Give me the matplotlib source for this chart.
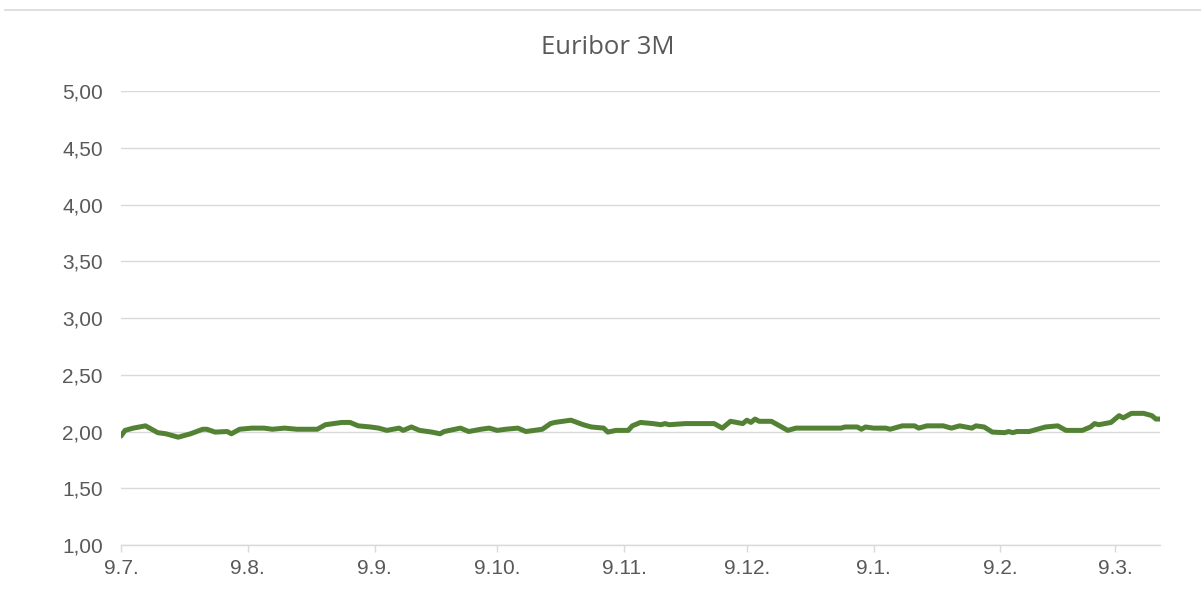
import pandas as pd
import matplotlib
matplotlib.use("Agg")
import matplotlib.pyplot as plt
import matplotlib.dates as mdates
from matplotlib.ticker import FuncFormatter, MultipleLocator
from matplotlib.lines import Line2D

# Euribor 3M readings
dates = [
    "2025-07-09", "2025-07-10", "2025-07-12", "2025-07-15", "2025-07-18", "2025-07-20",
    "2025-07-23", "2025-07-26", "2025-07-29", "2025-07-30", "2025-08-01", "2025-08-04",
    "2025-08-05", "2025-08-07", "2025-08-10", "2025-08-13", "2025-08-15", "2025-08-18",
    "2025-08-21", "2025-08-26", "2025-08-28", "2025-09-01", "2025-09-03", "2025-09-05",
    "2025-09-08", "2025-09-10", "2025-09-12", "2025-09-15", "2025-09-16", "2025-09-18",
    "2025-09-20", "2025-09-23", "2025-09-25", "2025-09-26", "2025-09-30", "2025-10-02",
    "2025-10-05", "2025-10-07", "2025-10-09", "2025-10-11", "2025-10-14", "2025-10-16",
    "2025-10-20", "2025-10-22", "2025-10-23", "2025-10-27", "2025-10-30", "2025-11-01",
    "2025-11-04", "2025-11-05", "2025-11-07", "2025-11-10", "2025-11-11", "2025-11-13",
    "2025-11-16", "2025-11-18", "2025-11-19", "2025-11-20", "2025-11-24", "2025-12-01",
    "2025-12-03", "2025-12-05", "2025-12-08", "2025-12-09", "2025-12-10", "2025-12-11",
    "2025-12-12", "2025-12-15", "2025-12-19", "2025-12-21", "2026-01-01", "2026-01-02",
    "2026-01-05", "2026-01-06", "2026-01-07", "2026-01-09", "2026-01-12", "2026-01-13",
    "2026-01-16", "2026-01-19", "2026-01-20", "2026-01-22", "2026-01-26", "2026-01-28",
    "2026-01-30", "2026-02-02", "2026-02-03", "2026-02-05", "2026-02-07", "2026-02-10",
    "2026-02-11", "2026-02-12", "2026-02-13", "2026-02-16", "2026-02-18", "2026-02-20",
    "2026-02-23", "2026-02-25", "2026-03-01", "2026-03-03", "2026-03-04", "2026-03-05",
    "2026-03-08", "2026-03-09", "2026-03-10", "2026-03-11", "2026-03-13", "2026-03-16",
    "2026-03-18", "2026-03-19", "2026-03-20",
]
rates = [
    1.96, 2.01, 2.03, 2.05, 1.99, 1.98,
    1.95, 1.98, 2.02, 2.02, 1.995, 2.00,
    1.98, 2.02, 2.03, 2.03, 2.02, 2.03,
    2.02, 2.02, 2.06, 2.08, 2.08, 2.05,
    2.04, 2.03, 2.01, 2.03, 2.01, 2.04,
    2.01, 1.995, 1.98, 2.00, 2.03, 2.00,
    2.02, 2.03, 2.01, 2.02, 2.03, 2.00,
    2.02, 2.07, 2.08, 2.10, 2.06, 2.04,
    2.03, 1.995, 2.01, 2.01, 2.05, 2.08,
    2.07, 2.06, 2.07, 2.06, 2.07, 2.07,
    2.03, 2.09, 2.07, 2.10, 2.08, 2.11,
    2.09, 2.09, 2.01, 2.03, 2.03, 2.04,
    2.04, 2.02, 2.04, 2.03, 2.03, 2.02,
    2.05, 2.05, 2.03, 2.05, 2.05, 2.03,
    2.05, 2.03, 2.05, 2.04, 1.995, 1.99,
    2.00, 1.99, 2.00, 2.00, 2.02, 2.04,
    2.05, 2.01, 2.01, 2.04, 2.07, 2.06,
    2.08, 2.11, 2.14, 2.12, 2.16, 2.16,
    2.14, 2.11, 2.11,
]

df = pd.DataFrame({"date": pd.to_datetime(dates), "rate": rates})

grey_text = "#595959"
grid_col = "#d9d9d9"

fig = plt.figure(figsize=(12.01, 5.95), dpi=100)
ax = fig.add_axes([0.1007, 0.084, 0.8652, 0.763])

ax.plot(df["date"], df["rate"], color="#548235", linewidth=3.6,
        solid_joinstyle="round", solid_capstyle="round")

ax.set_ylim(1.0, 5.0)
ax.yaxis.set_major_locator(MultipleLocator(0.5))
ax.yaxis.set_major_formatter(FuncFormatter(lambda v, p: f"{v:.2f}".replace(".", ",")))
ax.set_xlim(df["date"].iloc[0], df["date"].iloc[-1])
ax.xaxis.set_major_locator(mdates.MonthLocator(bymonthday=9))
ax.xaxis.set_major_formatter(FuncFormatter(
    lambda v, p: f"{mdates.num2date(v).day}.{mdates.num2date(v).month}."))

ax.grid(axis="y", color=grid_col, linewidth=1.0)
ax.set_axisbelow(True)
for s in ["top", "right", "left"]:
    ax.spines[s].set_visible(False)
ax.spines["bottom"].set_color(grid_col)
ax.spines["bottom"].set_linewidth(1.0)
ax.tick_params(axis="y", length=0, pad=13, labelsize=15, labelcolor=grey_text,
               labelfontfamily="Liberation Sans")
ax.tick_params(axis="x", length=5, width=1.0, color=grid_col, pad=5, labelsize=15,
               labelcolor=grey_text, labelfontfamily="Liberation Sans")

fig.text(0.506, 1 - 47 / 595, "Euribor 3M", ha="center", va="center",
         fontsize=18.5, color=grey_text, family="Open Sans")

# thin separator line at the top of the picture
fig.add_artist(Line2D([0.004, 1.0], [1 - 10 / 595, 1 - 10 / 595],
                      color=grid_col, linewidth=1.2, transform=fig.transFigure))

fig.savefig("out.png", dpi=100)
